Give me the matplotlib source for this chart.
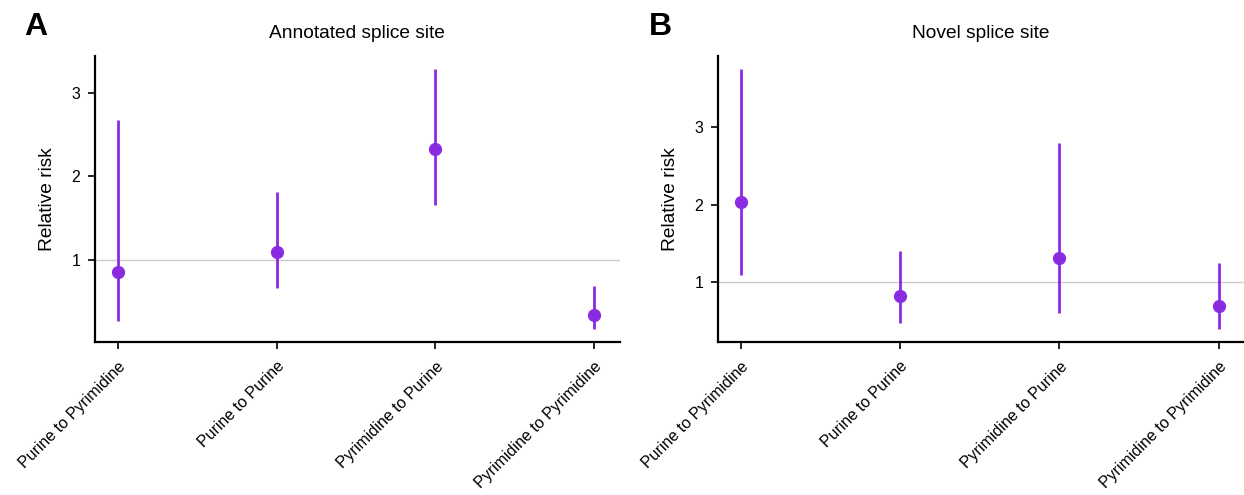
import matplotlib
matplotlib.use("Agg")
import matplotlib.pyplot as plt

plt.rcParams['font.family'] = ['Liberation Sans', 'DejaVu Sans']

substitutions = ["Purine to Pyrimidine", "Purine to Purine",
                 "Pyrimidine to Purine", "Pyrimidine to Pyrimidine"]

# relative risk with lower / upper confidence bounds
annotated_rr = [0.86, 1.09, 2.33, 0.34]
annotated_lo = [0.27, 0.66, 1.66, 0.17]
annotated_hi = [2.68, 1.81, 3.29, 0.69]

novel_rr = [2.03, 0.82, 1.31, 0.70]
novel_lo = [1.09, 0.48, 0.61, 0.40]
novel_hi = [3.75, 1.40, 2.80, 1.245]

purple = '#8a2be2'


def pointrange(ax, rr, lo, hi, title, yticks):
    x = list(range(1, len(substitutions) + 1))
    ax.axhline(1, color='#cccccc', lw=1, zorder=0)
    ax.vlines(x, lo, hi, color=purple, lw=2, zorder=2)
    ax.plot(x, rr, 'o', color=purple, ms=8.5, zorder=3)

    span = max(hi) - min(lo)
    ax.set_ylim(min(lo) - 0.05 * span, max(hi) + 0.05 * span)
    ax.set_xlim(0.855, 4.16)
    ax.set_yticks(yticks)
    ax.set_yticklabels([str(t) for t in yticks])
    ax.set_xticks(x)
    ax.set_xticklabels(substitutions, rotation=45, ha='right', va='top',
                       rotation_mode='anchor')

    for side in ['top', 'right']:
        ax.spines[side].set_visible(False)
    for side in ['left', 'bottom']:
        ax.spines[side].set_linewidth(1.6)
    ax.tick_params(width=1.2, length=5, labelsize=11.5, color='black', pad=5.5)
    ax.tick_params(axis='x', pad=7)
    ax.set_ylabel("Relative risk", fontsize=13.8, labelpad=11)
    ax.set_title(title, fontsize=13.8, pad=13)


fig = plt.figure(figsize=(12.44, 4.95), dpi=100)
ax1 = fig.add_axes([0.0764, 0.309, 0.4216, 0.578])
ax2 = fig.add_axes([0.577, 0.309, 0.423, 0.578])

pointrange(ax1, annotated_rr, annotated_lo, annotated_hi,
           "Annotated splice site", [1, 2, 3])
pointrange(ax2, novel_rr, novel_lo, novel_hi,
           "Novel splice site", [1, 2, 3])

# panel letters
fig.text(24 / 1244, 1 - 27 / 495, "A", fontsize=23, fontweight='bold',
         ha='left', va='center')
fig.text(649 / 1244, 1 - 27 / 495, "B", fontsize=23, fontweight='bold',
         ha='left', va='center')

fig.savefig("out.png", dpi=100)
